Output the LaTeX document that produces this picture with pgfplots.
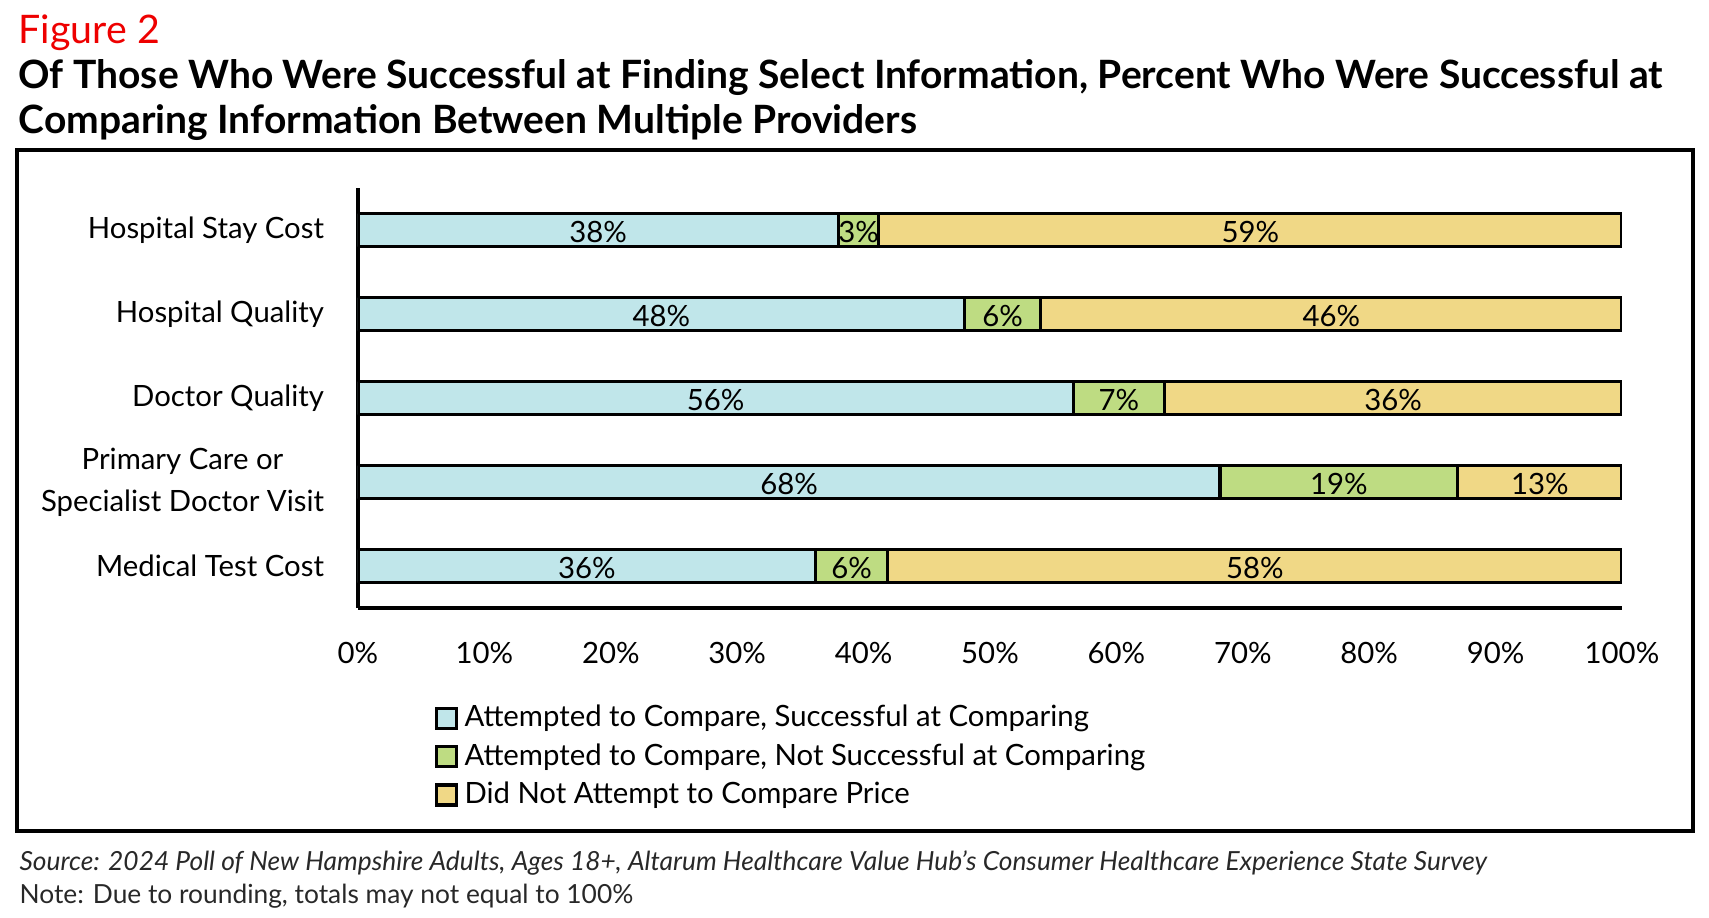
\documentclass[border=0pt]{standalone}
\usepackage{pgfplots}
\pgfplotsset{compat=1.18}
\usepackage{pgfplotstable}
\usepackage{fontspec}
\setmainfont{Lato}
\definecolor{cblue}{RGB}{192,230,234}
\definecolor{cgreen}{RGB}{190,220,130}
\definecolor{cyellow}{RGB}{240,216,134}
\definecolor{fred}{RGB}{238,0,0}
\definecolor{ngray}{RGB}{40,40,40}

\pgfplotstableread{
y a b c
0 36.2 5.7 58.1
1 68.2 18.8 13.0
2 56.6 7.2 36.2
3 48.0 6.0 46.0
4 38.0 3.2 58.8
}\bars

\pgfplotstableread{
x y lab
18.1 0 36
39.05 0 6
70.95 0 58
34.1 1 68
77.6 1 19
93.5 1 13
28.3 2 56
60.2 2 7
81.9 2 36
24.0 3 48
51.0 3 6
77.0 3 46
19.0 4 38
39.6 4 3
70.6 4 59
}\labs

\newcommand{\lab}{\fontsize{8.8}{12.6}\selectfont}

\begin{document}
\begin{tikzpicture}[x=0.3pt,y=0.3pt]
\useasboundingbox (0,0) rectangle (1709,917);
\draw[line width=1pt] (17,767) rectangle (1693,86);
\node[anchor=base west, inner sep=0pt, text=fred, font=\fontsize{11.8}{13}\selectfont] at (18,874) {Figure 2};
\node[anchor=base west, inner sep=0pt, font=\bfseries\fontsize{11.7}{13}\selectfont] at (18,829) {Of Those Who Were Successful at Finding Select Information, Percent Who Were Successful at};
\node[anchor=base west, inner sep=0pt, font=\bfseries\fontsize{11.7}{13}\selectfont] at (18,784) {Comparing Information Between Multiple Providers};
\node[anchor=base west, inner sep=0pt, text=ngray, font=\itshape\fontsize{7.9}{9}\selectfont] at (19,47) {Source: 2024 Poll of New Hampshire Adults, Ages 18+, Altarum Healthcare Value Hub’s Consumer Healthcare Experience State Survey};
\node[anchor=base west, inner sep=0pt, text=ngray, font=\fontsize{7.9}{9}\selectfont] at (19,14) {Note: Due to rounding, totals may not equal to 100\%};

\begin{axis}[
  at={(107.4pt,92.7pt)}, anchor=south west,
  scale only axis, width=379.2pt, height=126pt,
  xbar stacked, bar width=9.9pt,
  xmin=0, xmax=100, ymin=-0.5, ymax=4.5,
  axis x line*=bottom, axis y line*=left,
  axis line style={line width=1pt, -},
  major tick length=0pt,
  xtick={0,10,...,100},
  xticklabels={0\%,10\%,20\%,30\%,40\%,50\%,60\%,70\%,80\%,90\%,100\%},
  xticklabel style={font=\lab, inner sep=0pt, anchor=north, yshift=-10pt},
  ytick={0,1,2,3,4},
  yticklabels={Medical Test Cost,{Primary Care or\\Specialist Doctor Visit},Doctor Quality,Hospital Quality,Hospital Stay Cost},
  yticklabel style={font=\lab, align=center, inner sep=0pt, anchor=east, xshift=-10pt},
  every axis plot/.append style={draw=black, line width=1pt},
  legend style={draw=none, fill=none, at={(0.06,-0.214)}, anchor=north west, inner sep=0pt, row sep=-0.5pt, font=\fontsize{8.8}{10}\selectfont, legend cell align=left},
  legend image code/.code={\draw[#1, line width=1pt] (0pt,-3pt) rectangle (6pt,3pt);},
]
\addplot[fill=cblue] table[x=a, y=y] {\bars};
\addplot[fill=cgreen] table[x=b, y=y] {\bars};
\addplot[fill=cyellow] table[x=c, y=y] {\bars};
\legend{{Attempted to Compare, Successful at Comparing}, {Attempted to Compare, Not Successful at Comparing}, {Did Not Attempt to Compare Price}}
\end{axis}

\begin{axis}[
  at={(107.4pt,92.7pt)}, anchor=south west,
  scale only axis, width=379.2pt, height=126pt,
  xmin=0, xmax=100, ymin=-0.5, ymax=4.5,
  hide axis,
]
\addplot[draw=none, mark=none, nodes near coords={\pgfplotspointmeta\%}, nodes near coords align=center,
  every node near coord/.append style={font=\lab, anchor=center, inner sep=0pt, yshift=-0.5pt},
  point meta=explicit symbolic] table[x=x, y=y, meta=lab] {\labs};
\end{axis}
\end{tikzpicture}
\end{document}
